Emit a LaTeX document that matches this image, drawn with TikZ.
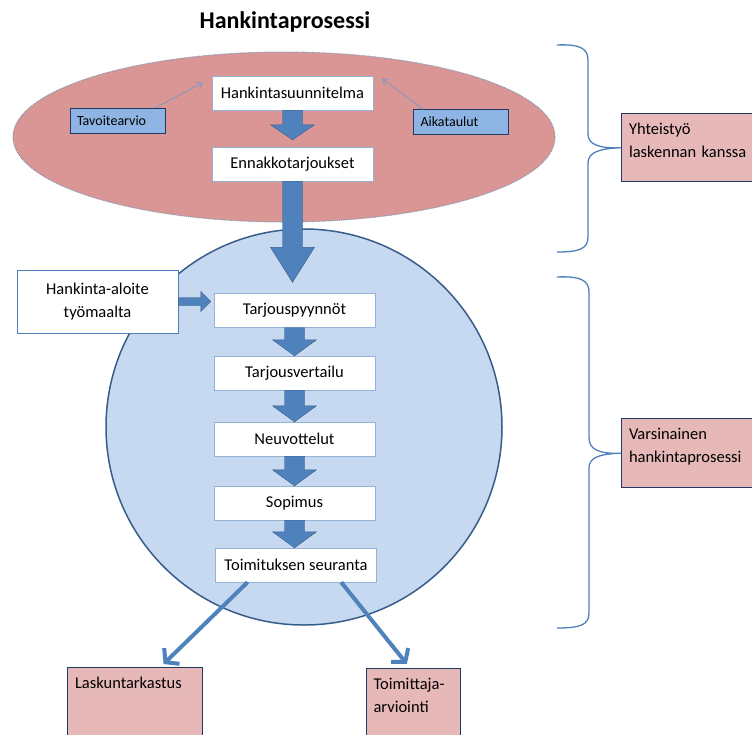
\documentclass[tikz,border=0pt]{standalone}
\usepackage{fontspec}
\setmainfont{Carlito}
\usetikzlibrary{calc}
\usetikzlibrary{arrows.meta}
\usetikzlibrary{positioning}

\definecolor{ellfill}{RGB}{217,150,148}
\definecolor{elledge}{RGB}{140,150,175}
\definecolor{circfill}{RGB}{198,217,240}
\definecolor{circedge}{RGB}{56,93,138}
\definecolor{arrblue}{RGB}{79,129,189}
\definecolor{pinkfill}{RGB}{230,185,184}
\definecolor{navy}{RGB}{31,56,100}
\definecolor{bluefill}{RGB}{142,180,227}

\tikzset{
	stepbox/.style={draw=arrblue!60, fill=white, minimum width=161, minimum height=34, inner sep=0pt, font=\fontsize{16.5}{20}\selectfont},
	startbox/.style={draw=arrblue, fill=white, minimum width=161, minimum height=63, inner sep=0pt, align=center, font=\fontsize{16.5}{23}\selectfont},
	inputbox/.style={draw=navy, fill=bluefill, minimum width=95, minimum height=25, inner xsep=7pt, text width=81, align=left, font=\fontsize{14}{15}\selectfont},
	notebox/.style={draw=navy, fill=pinkfill, line width=1pt, anchor=north west, inner xsep=6pt, inner ysep=10pt, align=left, font=\fontsize{16.5}{23}\selectfont},
	blockarrow/.style={fill=arrblue, draw=circedge, line width=0.4pt},
	thinarrow/.style={draw=arrblue!80, line width=0.7pt, -{Straight Barb[length=5pt,width=7pt]}},
	bigarrow/.style={draw=arrblue, line width=4pt, -{Straight Barb[length=9pt,width=22pt]}},
	bracket/.style={draw=arrblue, line width=1.3pt}
}

% block arrow: #1 from, #2 to, #3 gap before target, #4 head length
\newcommand{\blockdown}[4]{%
	\path[blockarrow] let \p1=(#1.south), \p2=(#2.north) in
	(\x1-10pt,\y1) -- (\x1+10pt,\y1) -- (\x1+10pt,\y2+#3pt+#4pt) -- (\x1+22pt,\y2+#3pt+#4pt)
	-- (\x1,\y2+#3pt) -- (\x1-22pt,\y2+#3pt+#4pt) -- (\x1-10pt,\y2+#3pt+#4pt) -- cycle;}

\begin{document}
\begin{tikzpicture}[x=1pt, y=-1pt]
	\clip (0,0) rectangle (752,734);
	\fill[white] (0,0) rectangle (752,734);

	% title
	\node[font=\fontsize{24}{26}\selectfont\bfseries] (title) at (285,22) {Hankintaprosessi};

	% upper ellipse and lower circle
	\draw[fill=ellfill, draw=elledge, line width=1pt, dash pattern=on 1pt off 0.8pt] (284,137) ellipse [x radius=271pt, y radius=85pt];
	\draw[fill=circfill, draw=circedge, line width=1.5pt] (304,427) circle [radius=198pt];

	% planning phase
	\node[stepbox] (suunn) at (292.5,93) {Hankintasuunnitelma};
	\node[stepbox] (ennak) at (292.5,164) {Ennakkotarjoukset};
	\node[inputbox] (tavoite) at (117.5,120.5) {Tavoitearvio};
	\node[inputbox] (aika) at (461,122) {Aikataulut};

	% actual process
	\node[startbox] (aloite) at (97.5,301.5) {Hankinta-aloite\\työmaalta};
	\node[stepbox] (pyynto) at (294.5,310.5) {Tarjouspyynnöt};
	\node[stepbox] (vertailu) at (294.5,373) {Tarjousvertailu};
	\node[stepbox] (neuvo) at (294.5,439) {Neuvottelut};
	\node[stepbox] (sopimus) at (294.5,503) {Sopimus};
	\node[stepbox] (seuranta) at (296,565) {Toimituksen seuranta};

	% side notes
	\node[notebox, minimum width=140, text width=125, text depth=37pt] (yhteis) at (621,113) {Yhteistyö\\laskennan kanssa};
	\node[notebox, minimum width=140, text width=125, text depth=38pt] (varsin) at (621,418) {Varsinainen\\hankintaprosessi};
	\node[notebox, minimum width=135, text width=120, text depth=70pt] (lasku) at (67,667) {Laskuntarkastus};
	\node[notebox, minimum width=94, text width=80, text depth=70pt] (arvio) at (366,668) {Toimittaja-\\arviointi};

	% block arrows
	\blockdown{suunn}{ennak}{7}{15}
	\blockdown{ennak}{pyynto}{11}{35}
	\blockdown{pyynto}{vertailu}{0}{16}
	\blockdown{vertailu}{neuvo}{0}{16}
	\blockdown{neuvo}{sopimus}{0}{16}
	\blockdown{sopimus}{seuranta}{0}{16}
	\path[blockarrow] let \p1=(aloite.east), \p2=(pyynto.west) in
		(\x1,\y1+4pt) -- (\x2-13pt,\y1+4pt) -- (\x2-13pt,\y1+10pt) -- (\x2-3pt,\y1)
		-- (\x2-13pt,\y1-10pt) -- (\x2-13pt,\y1-4pt) -- (\x1,\y1-4pt) -- cycle;

	% thin arrows
	\draw[thinarrow] ($(tavoite.north east)+(-10,0)$) -- ($(suunn.north west)+(-9,7)$);
	\draw[thinarrow] ($(aika.north west)+(10,0)$) -- ($(suunn.north east)+(9,3)$);

	% outgoing arrows
	\draw[bigarrow] ($(seuranta.south west)!0.2!(seuranta.south east)$) -- ($(lasku.north west)!0.71!(lasku.north east)+(0,-3)$);
	\draw[bigarrow] ($(seuranta.south west)!0.78!(seuranta.south east)$) -- ($(arvio.north west)!0.43!(arvio.north east)+(0,-4)$);

	% braces
	\draw[bracket] (557,45) .. controls (579,44) and (588,48) .. (588,60) -- (588,134)
		.. controls (588,145) and (600,148.5) .. (yhteis.west)
		.. controls (600,148.5) and (588,152) .. (588,163) -- (588,237)
		.. controls (588,249) and (579,252) .. (557,252);
	\draw[bracket] (557,277) .. controls (580,276) and (589,280) .. (589,292) -- (589,438)
		.. controls (589,450) and (600,454) .. (varsin.west)
		.. controls (600,454) and (589,457) .. (589,468) -- (589,613)
		.. controls (589,625) and (580,628) .. (557,628);
\end{tikzpicture}
\end{document}
